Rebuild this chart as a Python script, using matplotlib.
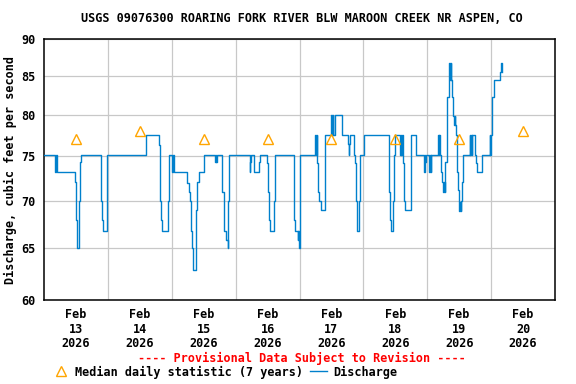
import matplotlib
matplotlib.use("Agg")
import matplotlib.pyplot as plt
from matplotlib.lines import Line2D
from matplotlib.ticker import FixedLocator, NullLocator

# Discharge, step changes: hours since Feb 13 00:00 and cfs value from that time on
hours = [
    0.0, 4.25, 4.5, 4.75, 11.5, 12.0, 12.25, 12.5, 13.25, 13.5, 14.0,
    21.25, 21.75, 22.0, 23.5, 23.75, 38.5, 43.25, 43.5, 43.75, 44.0, 44.5,
    46.5, 47.0, 48.25, 48.5, 48.75, 53.75, 54.5, 55.0, 55.25, 55.5, 56.0,
    57.0, 57.25, 57.5, 58.25, 60.0, 64.25, 64.5, 64.75, 65.0, 67.0, 67.75,
    68.5, 69.0, 69.25, 69.5, 77.25, 77.5, 77.75, 78.75, 80.75, 81.0, 83.75,
    84.0, 84.5, 84.75, 86.5, 86.75, 93.75, 94.0, 94.25, 95.25, 95.5, 95.75,
    96.0, 96.25, 102.0, 102.25, 102.5, 102.75, 103.0, 103.5, 104.0, 105.5,
    105.75, 108.0, 108.25, 108.5, 108.75, 109.5, 112.0, 114.25, 114.5,
    114.75, 115.0, 116.5, 116.75, 117.25, 117.5, 117.75, 118.5, 118.75,
    120.25, 129.5, 129.75, 130.0, 130.5, 131.25, 131.5, 132.0, 133.75,
    134.0, 134.25, 134.5, 134.75, 135.25, 135.5, 137.75, 138.0, 139.75,
    142.75, 143.0, 143.25, 143.5, 144.75, 145.0, 145.25, 145.5, 148.0,
    148.25, 148.5, 148.75, 149.25, 149.5, 150.0, 150.25, 150.5, 150.75,
    151.25, 151.5, 152.0, 152.25, 152.5, 152.75, 153.0, 153.25, 153.75,
    154.0, 154.25, 154.5, 154.75, 155.0, 155.25, 155.5, 155.75, 156.0,
    156.25, 156.5, 156.75, 157.0, 157.25, 157.5, 160.0, 160.25, 160.5,
    160.75, 161.0, 162.0, 162.5, 162.75, 164.5, 167.5, 167.75, 168.0,
    168.25, 168.5, 169.0, 171.5, 171.75, 172.0,
]
discharge = [
    75.2, 73.2, 75.2, 73.2, 72.1, 67.9, 65.9, 65.0, 70.0, 74.3, 75.2,
    70.0, 67.9, 66.8, 70.0, 75.2, 77.5, 76.3, 75.2, 70.0, 67.9, 66.8,
    70.0, 75.2, 73.2, 75.2, 73.2, 72.0, 71.0, 70.0, 66.8, 65.0, 62.9,
    65.0, 69.0, 72.1, 73.2, 75.2, 74.3, 75.2, 74.3, 75.2, 71.0, 66.8,
    65.9, 65.0, 70.0, 75.2, 73.2, 74.3, 75.2, 73.2, 74.3, 75.2, 74.2,
    71.0, 67.9, 66.8, 70.0, 75.2, 70.0, 67.9, 66.8, 65.9, 66.8, 65.0,
    72.1, 75.2, 77.5, 75.2, 77.5, 74.2, 71.0, 70.0, 69.0, 74.2,
    77.5, 80.0, 77.5, 80.0, 77.5, 80.0, 77.5, 76.4, 75.2,
    76.4, 77.5, 75.2, 74.2, 70.0, 67.9, 66.8, 70.0, 75.2,
    77.5, 74.2, 71.0, 67.9, 66.8, 70.0, 75.2, 77.5, 75.2,
    77.5, 75.2, 77.5, 74.2, 70.0, 69.0, 75.2, 77.5, 75.2,
    73.2, 75.2, 74.3, 75.2, 73.2, 75.2, 73.2, 75.2, 77.5,
    75.2, 77.5, 75.2, 73.2, 72.1, 71.0, 72.1, 71.0, 74.4,
    80.8, 82.3, 84.4, 86.7, 84.4, 86.7, 84.4, 82.3, 79.8,
    78.7, 79.8, 78.7, 77.5, 75.2, 73.2, 71.2, 69.9, 68.9,
    69.9, 68.9, 70.0, 72.1, 73.2, 75.2, 77.5, 75.2, 77.5,
    75.2, 77.5, 75.2, 74.2, 73.2, 75.2, 77.5, 75.2, 77.5,
    79.8, 82.3, 84.4, 85.5, 86.7, 85.5,
]

# Median daily statistic (7 years), plotted at noon of each day
median_hours = [12, 36, 60, 84, 108, 132, 156, 180]
median_values = [77, 78, 77, 77, 77, 77, 77, 78]

day_labels = ["Feb\n13\n2026", "Feb\n14\n2026", "Feb\n15\n2026", "Feb\n16\n2026",
              "Feb\n17\n2026", "Feb\n18\n2026", "Feb\n19\n2026", "Feb\n20\n2026"]
y_ticks = [60, 65, 70, 75, 80, 85, 90]

FONT = "DejaVu Sans Mono"
FS = 8.5
BLUE = "#0080cc"
ORANGE = "#ffa500"

plt.rcParams["font.family"] = FONT
plt.rcParams["font.weight"] = "bold"

W, H = 576, 384
fig = plt.figure(figsize=(W / 100, H / 100), dpi=100)
ax = fig.add_axes([44 / W, 1 - 300 / H, (555 - 44) / W, (300 - 39) / H])

ax.plot(hours, discharge, drawstyle="steps-post", color=BLUE, lw=1.0, zorder=3)
ax.plot(median_hours, median_values, linestyle="none", marker="^", ms=6.5,
        mfc="none", mec=ORANGE, mew=1.0, zorder=4)

ax.set_yscale("log")
ax.set_ylim(60, 90)
ax.set_xlim(0, 192)
ax.yaxis.set_major_locator(FixedLocator(y_ticks))
ax.yaxis.set_minor_locator(NullLocator())
ax.set_yticklabels([str(v) for v in y_ticks])
ax.set_xticks(median_hours)
ax.set_xticklabels(day_labels, linespacing=1.15)
ax.set_xticks(range(24, 192, 24), minor=True)

ax.grid(False)
ax.xaxis.grid(True, which="minor", color="#c8c8c8", lw=0.9)
ax.yaxis.grid(True, which="major", color="#c8c8c8", lw=0.9)
ax.tick_params(axis="both", which="both", length=0, labelsize=FS)
ax.tick_params(axis="y", pad=6)
ax.tick_params(axis="x", pad=6)
for sp in ax.spines.values():
    sp.set_linewidth(1.1)
    sp.set_color("black")

ax.set_ylabel("Discharge, cubic feet per second", fontsize=FS, fontweight="bold",
              labelpad=3)

fig.text(302 / W, 1 - 19 / H, "USGS 09076300 ROARING FORK RIVER BLW MAROON CREEK NR ASPEN, CO",
         ha="center", va="center", fontsize=FS, fontweight="bold")
fig.text(302 / W, 1 - 358 / H, "---- Provisional Data Subject to Revision ----",
         ha="center", va="center", fontsize=FS, fontweight="bold", color="#ff0000")

# legend row
fig.add_artist(Line2D([61 / W], [1 - 371 / H], transform=fig.transFigure, marker="^",
                      ms=6.5, mfc="none", mec=ORANGE, mew=1.0, linestyle="none"))
fig.text(75 / W, 1 - 372 / H, "Median daily statistic (7 years)",
         ha="left", va="center", fontsize=FS, fontweight="bold")
fig.add_artist(Line2D([310 / W, 327 / W], [1 - 371 / H, 1 - 371 / H],
                      transform=fig.transFigure, color=BLUE, lw=1.0))
fig.text(333 / W, 1 - 372 / H, "Discharge",
         ha="left", va="center", fontsize=FS, fontweight="bold")

fig.savefig("out.png", dpi=100)
